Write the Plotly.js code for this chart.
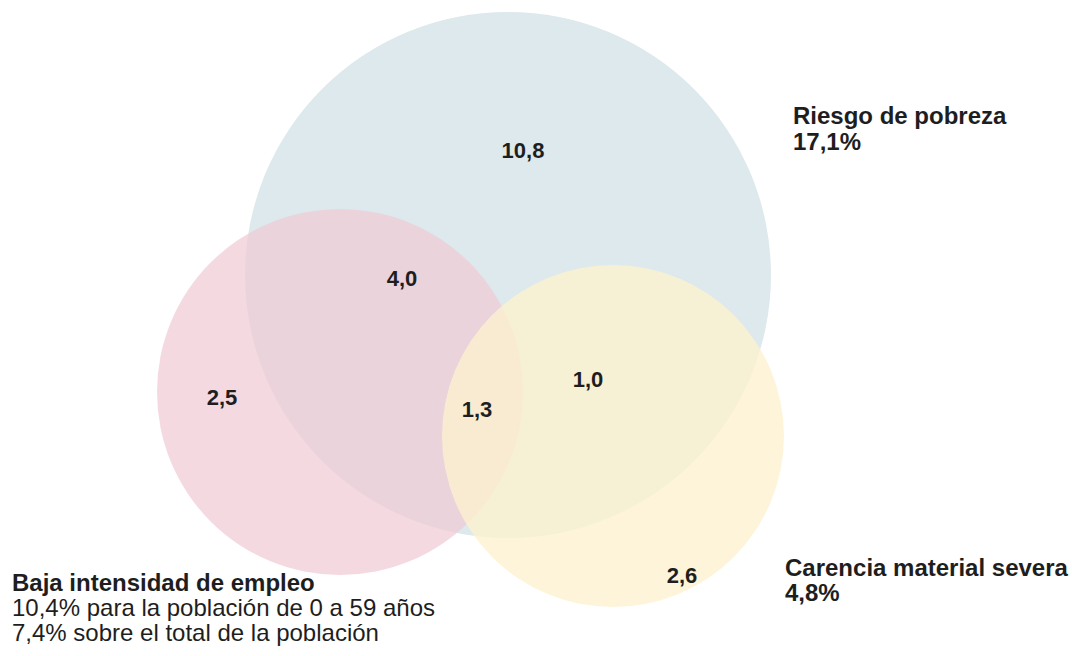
<!DOCTYPE html>
<html>
<head>
<meta charset="utf-8">
<script src="https://cdn.plot.ly/plotly-3.0.1.min.js"></script>
<style>html,body{margin:0;padding:0;background:#fff;}#chart{width:1072px;height:656px;}</style>
</head>
<body>
<div id="chart"></div>
<script>
// ---- data ----
var setNames = ['Riesgo de pobreza', 'Baja intensidad de empleo', 'Carencia material severa'];
var setTotals = ['17,1%', '10,4% para la población de 0 a 59 años', '4,8%'];
var setExtra = ['', '7,4% sobre el total de la población', ''];
var regionValues = ['10,8', '4,0', '2,5', '1,3', '1,0', '2,6'];

// ---- layout geometry (pixel-like coordinate system) ----
var circleCx = [508, 340, 613];
var circleCy = [275, 392, 436];
var circleR = [263, 183, 171];
var circleColor = ['rgb(221,233,236)', 'rgba(240,202,213,0.72)', 'rgba(252,241,207,0.8)'];
var regionX = [523, 402, 222, 477, 588, 682];
var regionY = [152, 280, 399, 411, 381, 577];

var shapes = circleCx.map(function (cx, i) {
  return {
    type: 'circle', xref: 'x', yref: 'y', layer: 'below',
    x0: cx - circleR[i], x1: cx + circleR[i],
    y0: circleCy[i] - circleR[i], y1: circleCy[i] + circleR[i],
    fillcolor: circleColor[i], line: {width: 0}
  };
});

var fontFam = '"Liberation Sans", Arial, Helvetica, sans-serif';
var txt = '#1e1e1e';

var traces = [{
  type: 'scatter', mode: 'text',
  x: regionX, y: regionY, text: regionValues,
  textfont: {family: fontFam, size: 22, color: txt, weight: 'bold'},
  hoverinfo: 'none', showlegend: false
}];

function ann(x, y, text, bold) {
  return {
    xref: 'x', yref: 'y', x: x, y: y, text: text, showarrow: false,
    xanchor: 'left', yanchor: 'middle',
    font: {family: fontFam, size: 24, color: txt, weight: bold ? 'bold' : 'normal'}
  };
}

var annotations = [
  ann(791, 115, setNames[0], true),
  ann(791, 141, setTotals[0], true),
  ann(783, 567, setNames[2], true),
  ann(783, 592, setTotals[2], true),
  ann(10, 582, setNames[1], true),
  ann(10, 607, setTotals[1], false),
  ann(10, 632, setExtra[1], false)
];

var layout = {
  width: 1072, height: 656,
  margin: {l: 0, r: 0, t: 0, b: 0},
  paper_bgcolor: '#ffffff', plot_bgcolor: '#ffffff',
  xaxis: {range: [0, 1072], visible: false, fixedrange: true},
  yaxis: {range: [656, 0], visible: false, fixedrange: true},
  shapes: shapes,
  annotations: annotations,
  showlegend: false
};

Plotly.newPlot('chart', traces, layout, {displayModeBar: false, staticPlot: true});
</script>
</body>
</html>
